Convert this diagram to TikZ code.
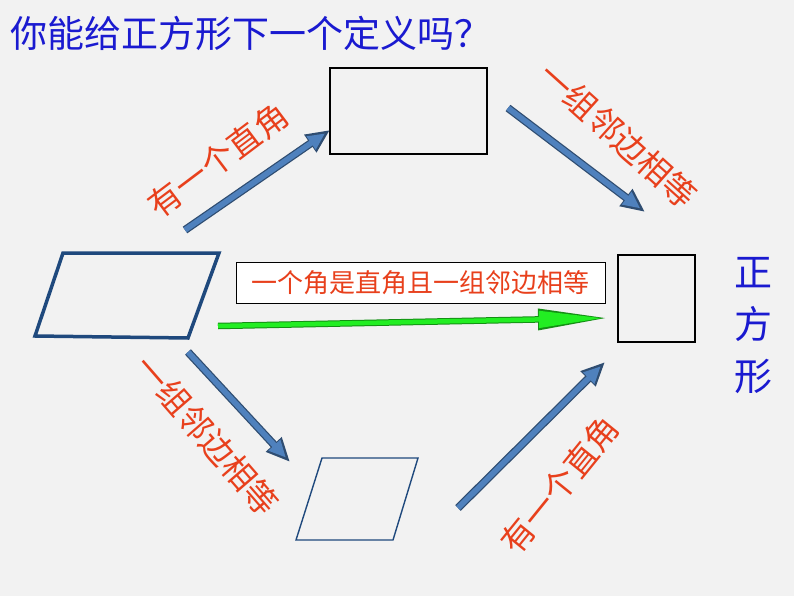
\documentclass[tikz,border=0pt]{standalone}
\usepackage{fontspec}
\setmainfont{Noto Sans CJK SC}
\usetikzlibrary{arrows.meta}
\definecolor{bg}{HTML}{F2F2F2}
\definecolor{ttl}{HTML}{1A1AD0}
\definecolor{lab}{HTML}{E8401C}
\definecolor{dblue}{HTML}{1F497D}
\definecolor{ablue}{HTML}{4F81BD}
\definecolor{agreen}{HTML}{22EE22}
\begin{document}
\begin{tikzpicture}[x=1pt,y=-1pt,
  shp/.style={draw=black,line width=1.6pt},
  lbl/.style={text=lab,font=\fontsize{33}{35}\selectfont,inner sep=0pt}]
\fill[bg] (0,0) rectangle (794,596);
\useasboundingbox (0,0) rectangle (794,596);
\node[anchor=west,text=ttl,font=\fontsize{37}{40}\selectfont,inner sep=0pt] (title) at (10,33) {你能给正方形下一个定义吗？};
\node[shp,minimum width=157pt,minimum height=86pt,inner sep=0pt] (rect) at (408.5,111) {};
\node[shp,minimum width=77pt,minimum height=87pt,inner sep=0pt] (sq) at (656.5,298.5) {};
\draw[draw=dblue,line width=3.5pt,line join=miter] (63,253) -- (219,253) -- (188,338) -- (35,336) -- cycle;
\draw[draw=dblue,line width=1.4pt] (322,458) -- (418,458) -- (393,540) -- (296,540) -- cycle;
\foreach \nm/\a/\b in {a1/{185,230}/{330,130}, a2/{508,108}/{645,212}, a3/{188,352}/{290,462}, a4/{458,508}/{605,362}}{
  \coordinate (s\nm) at (\a); \coordinate (e\nm) at (\b);
  \draw[draw=ablue!60!black,line width=8pt,-{Triangle[length=24pt,width=20pt]}] (s\nm) -- (e\nm);
  \draw[draw=ablue,line width=5.5pt,shorten >=6pt,-{Triangle[length=17pt,width=15pt]}] (s\nm) -- (e\nm);
}
\coordinate (g1) at (218,326); \coordinate (g2) at (608,318);
\draw[draw=agreen!60!black,line width=6.5pt,-{Triangle[length=70pt,width=20pt]}] (g1) -- (g2);
\draw[draw=agreen,line width=4.5pt,shorten >=5pt,-{Triangle[length=64pt,width=16pt]}] (g1) -- (g2);
\node[draw=black,line width=0.8pt,fill=white,minimum width=369pt,minimum height=41pt,inner sep=0pt,text=lab,font=\fontsize{26}{28}\selectfont] (box) at (420.5,282.5) {一个角是直角且一组邻边相等};
\node[lbl,rotate=37] (l1) at (218,160) {有一个直角};
\node[lbl,rotate=-42] (l2) at (618,135) {一组邻边相等};
\node[lbl,rotate=-49] (l3) at (207,435) {一组邻边相等};
\node[lbl,rotate=51] (l4) at (560,485) {有一个直角};
\node[text=ttl,font=\fontsize{38}{52}\selectfont,align=center,inner sep=0pt] (zf) at (753,326) {正\\方\\形};
\end{tikzpicture}
\end{document}
